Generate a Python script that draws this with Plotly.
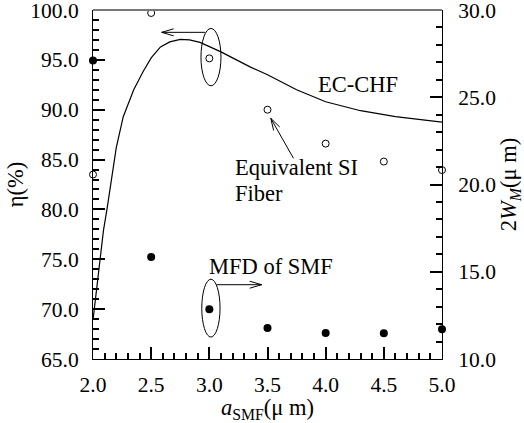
import math
import plotly.graph_objects as go

# ---------------- data ----------------
a_smf = [2.0, 2.5, 3.0, 3.5, 4.0, 4.5, 5.0]
eta_equiv_si = [83.5, 99.7, 95.15, 90.0, 86.6, 84.8, 83.95]      # open circles, left axis (%)
mfd_smf = [27.1, 15.85, 12.85, 11.78, 11.49, 11.47, 11.7]         # filled circles, right axis (um)

a_curve = [2.0, 2.03, 2.06, 2.09, 2.12, 2.16, 2.2, 2.26, 2.35, 2.43, 2.5, 2.58, 2.66,
           2.75, 2.83, 2.92, 3.0, 3.1, 3.2, 3.35, 3.5, 3.75, 4.0, 4.3, 4.6, 4.9, 5.0]
eta_ec_chf = [68.9, 71.9, 74.9, 77.9, 80.0, 83.0, 86.2, 89.3, 92.0, 93.8, 95.2, 96.3, 96.8,
              97.05, 97.0, 96.75, 96.35, 95.8, 95.2, 94.3, 93.5, 92.0, 90.8, 89.9, 89.3, 88.9, 88.75]

x_ticks = [2.0, 2.5, 3.0, 3.5, 4.0, 4.5, 5.0]
y_ticks = [65.0, 70.0, 75.0, 80.0, 85.0, 90.0, 95.0, 100.0]
y2_ticks = [10.0, 15.0, 20.0, 25.0, 30.0]
x_minor_step, y_minor_step, y2_minor_step = 0.1, 1.0, 1.0

# ---------------- layout geometry ----------------
W, H = 524, 423
ML, MR, MT, MB = 93, 82, 10, 64
PW, PH = W - ML - MR, H - MT - MB
XR = [2.0, 5.0]
YR = [65.0, 100.0]
Y2R = [10.0, 30.0]
sx = PW / (XR[1] - XR[0])
sy = PH / (YR[1] - YR[0])

FONT = "Liberation Serif"


def to_px(x, y):
    return (x - XR[0]) * sx, (YR[1] - y) * sy


def to_data(px, py):
    return XR[0] + px / sx, YR[1] - py / sy


def arrow_path(x0, y0, x1, y1, head=12.0, half=3.5):
    X0, Y0 = to_px(x0, y0)
    X1, Y1 = to_px(x1, y1)
    dx, dy = X1 - X0, Y1 - Y0
    L = math.hypot(dx, dy)
    ux, uy = dx / L, dy / L
    bx, by = X1 - ux * head, Y1 - uy * head
    nx, ny = -uy, ux
    b1 = to_data(bx + nx * half, by + ny * half)
    b2 = to_data(bx - nx * half, by - ny * half)
    return (f"M {x0},{y0} L {x1},{y1} M {b1[0]},{b1[1]} L {x1},{y1} L {b2[0]},{b2[1]}")


fig = go.Figure()

fig.add_trace(go.Scatter(
    x=a_curve, y=eta_ec_chf, mode="lines",
    line=dict(color="black", width=1.2), cliponaxis=False, showlegend=False))

fig.add_trace(go.Scatter(
    x=a_smf, y=eta_equiv_si, mode="markers",
    marker=dict(symbol="circle-open", size=7, color="black", line=dict(width=1)),
    cliponaxis=False, showlegend=False))

fig.add_trace(go.Scatter(
    x=a_smf, y=mfd_smf, mode="markers", yaxis="y2",
    marker=dict(symbol="circle", size=8, color="black"),
    cliponaxis=False, showlegend=False))

shapes = [
    # top border
    dict(type="line", xref="paper", yref="paper", x0=0, x1=1, y0=1, y1=1,
         line=dict(color="#777777", width=2)),
    # ellipses
    dict(type="circle", xref="x", yref="y", x0=2.928, x1=3.10, y0=92.4, y1=98.15,
         line=dict(color="black", width=1)),
    dict(type="circle", xref="x", yref="y", x0=2.935, x1=3.092, y0=67.2, y1=73.0,
         line=dict(color="black", width=1)),
    # arrows
    dict(type="path", xref="x", yref="y", path=arrow_path(2.963, 97.76, 2.59, 97.76),
         line=dict(color="black", width=1)),
    dict(type="path", xref="x", yref="y", path=arrow_path(3.063, 72.45, 3.45, 72.45),
         line=dict(color="black", width=1)),
    dict(type="path", xref="x", yref="y", path=arrow_path(3.723, 85.13, 3.528, 89.14),
         line=dict(color="black", width=1)),
]

tf = dict(family=FONT, size=22.5, color="black")
annotations = [
    dict(x=4.274, y=92.5, xref="x", yref="y", text="EC-CHF", showarrow=False, font=tf),
    dict(x=3.203, y=84.2, xref="x", yref="y", text="Equivalent SI", showarrow=False,
         font=tf, xanchor="left"),
    dict(x=3.203, y=81.6, xref="x", yref="y", text="Fiber", showarrow=False,
         font=tf, xanchor="left"),
    dict(x=3.534, y=74.27, xref="x", yref="y", text="MFD of SMF", showarrow=False, font=tf),
]

tick_font = dict(family=FONT, size=21.5, color="black")
title_font = dict(family=FONT, size=22.5, color="black")


def axis_common(vals, minor_step, standoff):
    return dict(tickmode="array", tickvals=vals, ticktext=[f"{v:.1f}" for v in vals],
                ticks="inside", ticklen=12, tickwidth=1.5, tickcolor="#000000",
                minor=dict(tickmode="linear", tick0=vals[0], dtick=minor_step,
                           ticks="inside", ticklen=6, tickwidth=1.5, tickcolor="#000000",
                           showgrid=False),
                ticklabeloverflow="allow", ticklabelstandoff=standoff,
                showline=True, linecolor="black", linewidth=1, showgrid=False,
                zeroline=False, tickfont=tick_font)


fig.update_layout(
    width=W, height=H,
    margin=dict(l=ML, r=MR, t=MT, b=MB, autoexpand=False),
    paper_bgcolor="white", plot_bgcolor="white",
    font=dict(family=FONT, color="black"),
    shapes=shapes, annotations=annotations,
    xaxis=dict(range=XR, **axis_common(x_ticks, x_minor_step, 6),
               title=dict(text="<i>a</i><sub>SMF</sub>(μ m)", font=title_font, standoff=2)),
    yaxis=dict(range=YR, **axis_common(y_ticks, y_minor_step, 9),
               title=dict(text="η(%)", font=title_font, standoff=0)),
    yaxis2=dict(range=Y2R, **axis_common(y2_ticks, y2_minor_step, 11),
                overlaying="y", side="right",
                title=dict(text="2<i>W<sub>M</sub></i>(μ m)", font=title_font, standoff=12)),
)

fig.write_html("out.html")
